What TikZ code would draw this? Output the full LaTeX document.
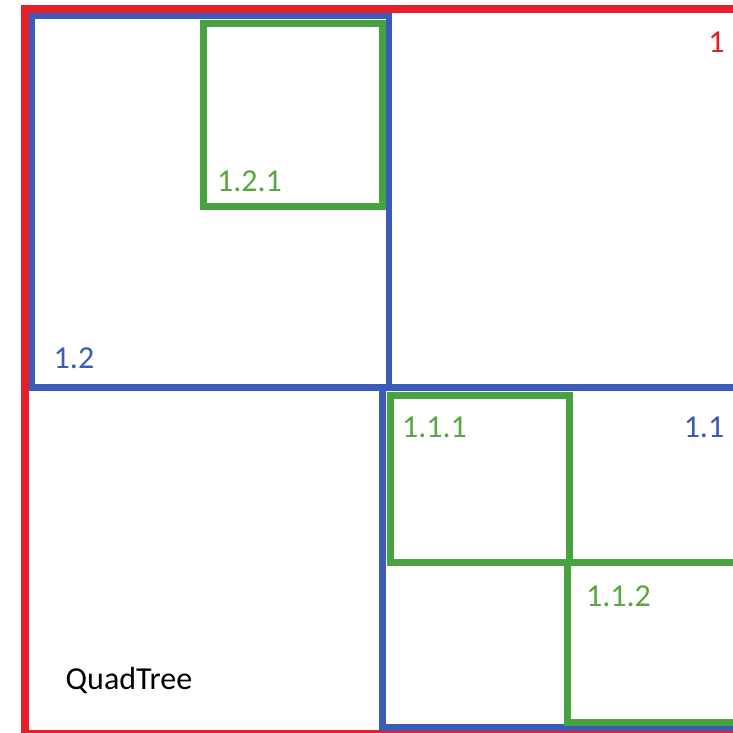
\documentclass[tikz,border=0pt]{standalone}
\usepackage{fontspec}
\setmainfont{Carlito}
\definecolor{qred}{HTML}{E3202A}
\definecolor{qblue}{HTML}{3A5BB7}
\definecolor{qgreen}{HTML}{47A23F}
\definecolor{qgreentext}{HTML}{5AA640}
\tikzset{
  redbox/.style={draw=qred, line width=8pt},
  bluebox/.style={draw=qblue, line width=6.5pt},
  greenbox/.style={draw=qgreen, line width=7pt},
  lbl/.style={inner sep=0pt, anchor=base, font=\fontsize{32}{36}\selectfont}
}
\begin{document}
\begin{tikzpicture}[x=1pt,y=-1pt]
\useasboundingbox (0,0) rectangle (733,733);
\fill[white] (0,0) rectangle (733,733);
\begin{scope}
\clip (0,0) rectangle (733,733);
\draw[redbox] (25,9) rectangle (760,734);
\draw[bluebox] (32,16) rectangle (389,387.5);
\draw[bluebox] (382.5,387.5) rectangle (760,727.5);
\draw[greenbox] (203,24) rectangle (382,206.5);
\draw[greenbox] (390,395) rectangle (569,562);
\draw[greenbox] (567,562) rectangle (760,722.5);
\end{scope}
\node[lbl, text=qred] (l1) at (716.5,53) {1};
\node[lbl, text=qblue] (l11) at (704,437) {1.1};
\node[lbl, text=qblue] (l12) at (74,368) {1.2};
\node[lbl, text=qgreentext] (l121) at (249.5,191) {1.2.1};
\node[lbl, text=qgreentext] (l111) at (434.5,437) {1.1.1};
\node[lbl, text=qgreentext] (l112) at (618.5,606) {1.1.2};
\node[lbl, text=black] (qt) at (129,689) {QuadTree};
\end{tikzpicture}
\end{document}
